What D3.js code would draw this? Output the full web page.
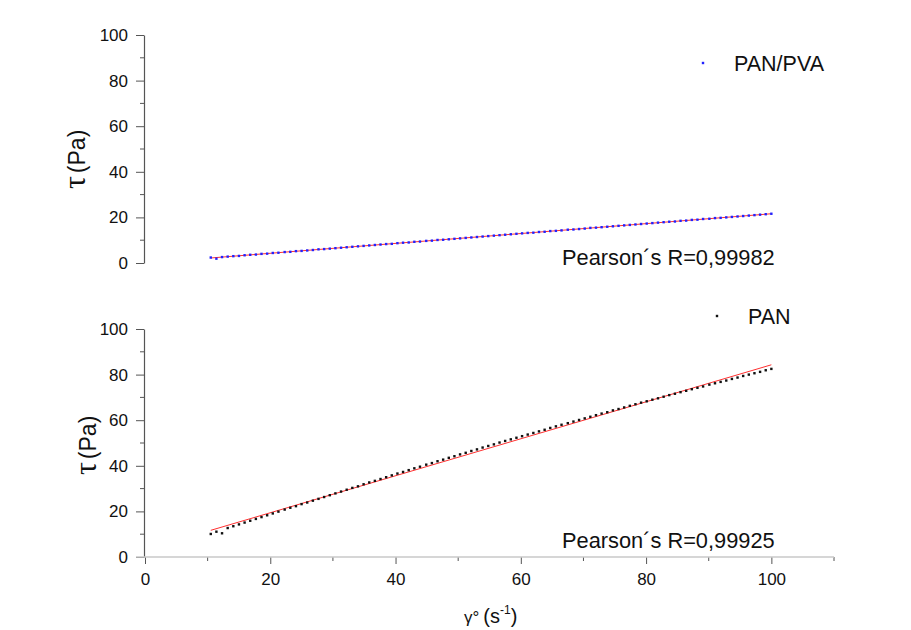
<!DOCTYPE html>
<html>
<head>
<meta charset="utf-8">
<script src="https://cdn.jsdelivr.net/npm/d3@7"></script>
<style>
  body { margin: 0; background: #fff; }
  svg { font-family: Arial, "Liberation Sans", sans-serif; }
</style>
</head>
<body>
<div id="vis"></div>
<script>
// shear rate (s^-1), shared by both samples
const shearRate = [10.5, 11.4, 12.3, 13.2, 14.1, 15.0, 15.9, 16.8, 17.7, 18.6,
    19.5, 20.4, 21.3, 22.3, 23.2, 24.1, 25.0, 25.9, 26.8, 27.7,
    28.6, 29.5, 30.4, 31.3, 32.2, 33.1, 34.0, 34.9, 35.8, 36.7,
    37.6, 38.5, 39.4, 40.3, 41.2, 42.1, 43.0, 43.9, 44.9, 45.8,
    46.7, 47.6, 48.5, 49.4, 50.3, 51.2, 52.1, 53.0, 53.9, 54.8,
    55.7, 56.6, 57.5, 58.4, 59.3, 60.2, 61.1, 62.0, 62.9, 63.8,
    64.7, 65.6, 66.5, 67.5, 68.4, 69.3, 70.2, 71.1, 72.0, 72.9,
    73.8, 74.7, 75.6, 76.5, 77.4, 78.3, 79.2, 80.1, 81.0, 81.9,
    82.8, 83.7, 84.6, 85.5, 86.4, 87.3, 88.2, 89.1, 90.1, 91.0,
    91.9, 92.8, 93.7, 94.6, 95.5, 96.4, 97.3, 98.2, 99.1, 100.0];

// shear stress (Pa)
const tauPanPva = [2.4, 1.9, 2.6, 2.8, 3.0, 3.1, 3.4, 3.6, 3.7, 4.0,
    4.1, 4.4, 4.5, 4.8, 4.9, 5.2, 5.3, 5.5, 5.7, 6.0,
    6.1, 6.3, 6.5, 6.7, 6.9, 7.1, 7.3, 7.5, 7.7, 7.9,
    8.1, 8.3, 8.4, 8.7, 8.9, 9.0, 9.3, 9.4, 9.7, 9.8,
    10.1, 10.2, 10.4, 10.6, 10.8, 11.0, 11.2, 11.4, 11.6, 11.8,
    12.0, 12.2, 12.4, 12.6, 12.8, 13.0, 13.2, 13.3, 13.6, 13.7,
    14.0, 14.1, 14.3, 14.6, 14.7, 14.9, 15.1, 15.4, 15.5, 15.7,
    15.9, 16.1, 16.3, 16.5, 16.7, 16.9, 17.1, 17.3, 17.5, 17.7,
    17.9, 18.1, 18.2, 18.5, 18.6, 18.9, 19.0, 19.3, 19.4, 19.7,
    19.8, 20.0, 20.2, 20.4, 20.6, 20.8, 21.0, 21.2, 21.4, 21.6];

const tauPan = [10.1, 11.1, 10.4, 12.7, 13.5, 14.3, 15.1, 15.9, 16.7, 17.5,
    18.3, 19.1, 19.9, 20.8, 21.6, 22.3, 23.2, 23.9, 24.7, 25.5,
    26.3, 27.1, 27.9, 28.7, 29.5, 30.3, 31.0, 31.9, 32.7, 33.4,
    34.2, 35.0, 35.8, 36.6, 37.3, 38.1, 38.9, 39.6, 40.5, 41.2,
    42.0, 42.7, 43.5, 44.2, 45.0, 45.7, 46.5, 47.2, 48.0, 48.7,
    49.4, 50.2, 50.9, 51.6, 52.3, 53.0, 53.7, 54.4, 55.1, 55.8,
    56.6, 57.3, 58.0, 58.7, 59.4, 60.1, 60.8, 61.5, 62.2, 62.9,
    63.5, 64.3, 64.9, 65.6, 66.3, 67.0, 67.7, 68.3, 69.0, 69.6,
    70.3, 71.0, 71.6, 72.3, 72.9, 73.6, 74.2, 74.8, 75.6, 76.2,
    76.8, 77.4, 78.1, 78.7, 79.4, 80.0, 80.6, 81.2, 81.9, 82.5];

// linear fits (end points)
const fitX = [10.5, 100];
const fitPanPva = [2.2, 21.6];
const fitPan = [11.7, 84.3];

const yTicks = [0, 20, 40, 60, 80, 100];
const yMinor = [10, 30, 50, 70, 90];
const xTicks = [0, 20, 40, 60, 80, 100];
const xMinor = [10, 30, 50, 70, 90, 110];

const width = 911;
const height = 630;
const axisColor = "#555";
const tickFont = "17px";

const svg = d3.select("#vis")
    .append("svg")
    .attr("width", width)
    .attr("height", height);

const x = d3.scaleLinear().domain([0, 110]).range([145, 834]);

const panels = [
    {
        name: "PAN/PVA", tau: tauPanPva, fit: fitPanPva, color: "#2222ff",
        pearson: "Pearson\u00b4s R=0,99982",
        y: d3.scaleLinear().domain([0, 100]).range([263, 35]),
        legend: {x: 703, y: 63}, pearsonAt: 265,
        label: {x: 85, y: 189}
    },
    {
        name: "PAN", tau: tauPan, fit: fitPan, color: "#111",
        pearson: "Pearson\u00b4s R=0,99925",
        y: d3.scaleLinear().domain([0, 100]).range([557, 329]),
        legend: {x: 717, y: 316}, pearsonAt: 548,
        label: {x: 96, y: 475}
    }
];

panels.forEach(p => {
    const g = svg.append("g");

    // y axis
    const yAxis = g.append("g")
        .attr("transform", `translate(${x(0) - 1},0)`)
        .call(d3.axisLeft(p.y).tickValues(yTicks).tickSize(8).tickSizeOuter(0).tickPadding(8));
    yAxis.select(".domain").attr("stroke", axisColor).attr("stroke-width", 1.2);
    yAxis.selectAll(".tick line").attr("stroke", axisColor);
    yAxis.selectAll(".tick text")
        .attr("fill", "#111")
        .style("font-size", tickFont)
        .style("font-family", "Arial, 'Liberation Sans', sans-serif");

    g.append("g")
        .selectAll("line")
        .data(yMinor)
        .join("line")
            .attr("x1", x(0) - 5)
            .attr("x2", x(0) - 1)
            .attr("y1", d => p.y(d))
            .attr("y2", d => p.y(d))
            .attr("stroke", axisColor);

    // y label
    const lab = g.append("text")
        .attr("transform", `translate(${p.label.x},${p.label.y}) rotate(-90)`)
        .attr("fill", "#111");
    lab.append("tspan").attr("font-size", 32).attr("font-family", "'Liberation Serif', serif").text("\u03c4");
    lab.append("tspan").attr("font-size", 23).attr("dx", 3).text("(Pa)");

    // fit line
    g.append("line")
        .attr("x1", x(fitX[0]))
        .attr("x2", x(fitX[1]))
        .attr("y1", p.y(p.fit[0]))
        .attr("y2", p.y(p.fit[1]))
        .attr("stroke", "#ff3030")
        .attr("stroke-width", 1);

    // data points
    const s = 2.4;
    g.append("g")
        .selectAll("rect")
        .data(shearRate.map((d, i) => [d, p.tau[i]]))
        .join("rect")
            .attr("x", d => x(d[0]) - s / 2)
            .attr("y", d => p.y(d[1]) - s / 2)
            .attr("width", s)
            .attr("height", s)
            .attr("fill", p.color);

    // legend
    g.append("rect")
        .attr("x", p.legend.x - s / 2)
        .attr("y", p.legend.y - s / 2)
        .attr("width", s)
        .attr("height", s)
        .attr("fill", p.color);
    g.append("text")
        .attr("x", p.legend.x + 31)
        .attr("y", p.legend.y + 8)
        .attr("font-size", 21.5)
        .attr("fill", "#111")
        .text(p.name);

    // pearson
    g.append("text")
        .attr("x", 562)
        .attr("y", p.pearsonAt)
        .attr("font-size", 21.8)
        .attr("fill", "#111")
        .text(p.pearson);
});

// x axis (bottom panel only)
const yb = panels[1].y;
const xAxis = svg.append("g")
    .attr("transform", `translate(0,${yb(0)})`)
    .call(d3.axisBottom(x).tickValues(xTicks).tickSize(7).tickSizeOuter(0).tickPadding(9));
xAxis.select(".domain").remove();
xAxis.selectAll(".tick line").attr("stroke", axisColor);
xAxis.selectAll(".tick text")
    .attr("fill", "#111")
    .style("font-size", tickFont)
    .style("font-family", "Arial, 'Liberation Sans', sans-serif");

svg.append("g")
    .selectAll("line")
    .data(xMinor)
    .join("line")
        .attr("x1", d => x(d))
        .attr("x2", d => x(d))
        .attr("y1", yb(0))
        .attr("y2", yb(0) + 4)
        .attr("stroke", axisColor);

svg.append("line")
    .attr("x1", x(0) - 9)
    .attr("x2", x(110))
    .attr("y1", yb(0))
    .attr("y2", yb(0))
    .attr("stroke", "#c8c8c8")
    .attr("stroke-width", 1.5);

// x label
const xl = svg.append("text")
    .attr("x", 464)
    .attr("y", 623)
    .attr("fill", "#111");
xl.append("tspan").attr("font-size", 17).text("\u03b3\u00b0");
xl.append("tspan").attr("font-size", 20).attr("dx", 4).text("(s");
xl.append("tspan").attr("font-size", 12).attr("dy", -9).text("-1");
xl.append("tspan").attr("font-size", 20).attr("dy", 9).text(")");
</script>
</body>
</html>
